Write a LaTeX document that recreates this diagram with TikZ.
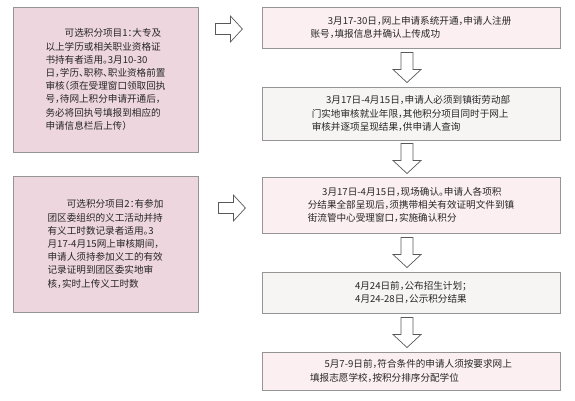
\documentclass[tikz,border=0pt]{standalone}
\usepackage{fontspec}
\setmainfont[RawFeature=+halt]{Noto Sans CJK SC}
\usetikzlibrary{calc}
\definecolor{leftfill}{HTML}{EED6DF}
\definecolor{pinkfill}{HTML}{FBEFF1}
\definecolor{grayfill}{HTML}{F7F4F4}
\definecolor{boxline}{HTML}{959595}
\definecolor{txt}{HTML}{262626}
\begin{document}
\begin{tikzpicture}[x=1pt,y=-1pt,
  box/.style={draw=boxline, line width=0.8pt, inner sep=0pt, text=txt,
    font=\fontsize{9.6}{13.2}\selectfont},
  leftbox/.style={box, fill=leftfill, minimum width=185pt, align=left},
  rightbox/.style={box, minimum width=298pt, align=left},
  blockarrow/.style={draw=black!65, fill=white, line width=0.7pt, line join=miter},
  pics/darrow/.style={code={\draw[blockarrow] (-6,0) -- (6,0) -- (6,17) -- (14,17)
      -- (0,30) -- (-14,17) -- (-6,17) -- cycle;}},
  pics/rarrow/.style={code={\draw[blockarrow] (0,-5.5) -- (15,-5.5) -- (15,-13)
      -- (27,0) -- (15,13) -- (15,5.5) -- (0,5.5) -- cycle;}}]
\useasboundingbox[fill=white] (0,0) rectangle (575,400);

\node[leftbox, minimum height=145pt] (L1) at (105.5,79.5)
  {\hspace*{2em}可选积分项目1：大专及\\以上学历或相关职业资格证\\书持有者适用。3月10-30\\日，学历、职称、职业资格前置\\审核（须在受理窗口领取回执\\号，待网上积分申请开通后，\\务必将回执号填报到相应的\\申请信息栏后上传）};
\node[leftbox, minimum height=136pt] (L2) at (105.5,244)
  {\hspace*{2em}可选积分项目2：有参加\\团区委组织的义工活动并持\\有义工时数记录者适用。3\\月17-4月15网上审核期间，\\申请人须持参加义工的有效\\记录证明到团区委实地审\\核，实时上传义工时数};

\node[rightbox, fill=pinkfill, minimum height=41pt] (A) at (411,27.5)
  {\hspace*{1.8em}3月17-30日，网上申请系统开通，申请人注册\\账号，填报信息并确认上传成功};
\node[rightbox, fill=grayfill, minimum height=53pt] (B) at (411,113.5)
  {\hspace*{1.5em}3月17日-4月15日，申请人必须到镇街劳动部\\门实地审核就业年限，其他积分项目同时于网上\\审核并逐项呈现结果，供申请人查询};
\node[rightbox, fill=pinkfill, minimum height=56pt] (C) at (411,205)
  {\hspace*{1.5em}3月17日-4月15日，现场确认。申请人各项积\\分结果全部呈现后，须携带相关有效证明文件到镇\\街流管中心受理窗口，实施确认积分};
\node[rightbox, fill=grayfill, minimum height=41pt, align=center] (D) at (411,292.5)
  {4月24日前，公布招生计划；\\4月24-28日，公示积分结果};
\node[rightbox, fill=pinkfill, minimum height=38pt] (E) at (411,371)
  {\hspace*{1.5em}5月7-9日前，符合条件的申请人须按要求网上\\填报志愿学校，按积分排序分配学位};

\pic at ($(A.south)!0.5!(B.north)+(-4,-15)$) {darrow};
\pic at ($(B.south)!0.5!(C.north)+(-4,-15)$) {darrow};
\pic at ($(C.south)!0.5!(D.north)+(-4,-15)$) {darrow};
\pic at ($(D.south)!0.5!(E.north)+(-4,-15)$) {darrow};

\pic at ($(L1.east |- A.center)+(17,1.5)$) {rarrow};
\pic at ($(L2.east |- C.center)+(20,3)$) {rarrow};
\end{tikzpicture}
\end{document}
